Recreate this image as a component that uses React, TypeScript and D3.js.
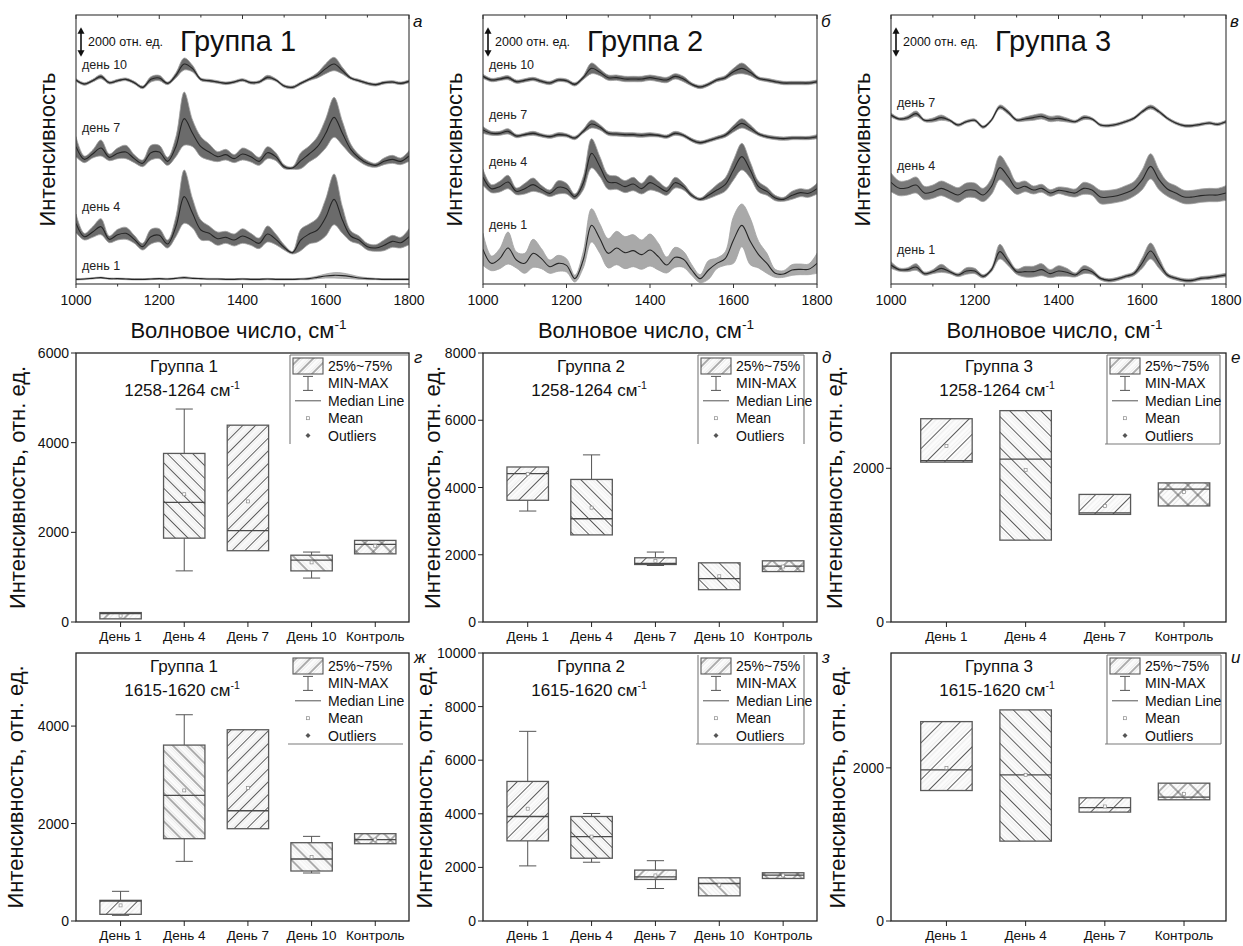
import React from 'react';
import * as d3 from 'd3';

const FONT = '"Liberation Sans", Arial, Helvetica, sans-serif';

// wavenumber grid of the spectra, cm-1
const waveNumbers = [
  1000, 1020, 1040, 1060, 1080, 1100, 1120, 1140, 1160, 1180, 1200, 1220, 1240, 1260,
  1280, 1300, 1320, 1340, 1360, 1380, 1400, 1420, 1440, 1460, 1480, 1500, 1520, 1540,
  1560, 1580, 1600, 1620, 1640, 1660, 1680, 1700, 1720, 1740, 1760, 1780, 1800,
];

// ---- Group 1 spectra: mean signal and SD relative to each trace's baseline (отн. ед.)
const g1Day10 = [250, -50, 200, 500, 50, 200, 300, 50, -300, 300, 400, 0, 600, 1450, 1100, 300, 200, 100, 0, 100, 250, 50, 100, 450, 250, -200, -300, 0, 300, 600, 1100, 1450, 950, 400, 200, 0, -100, 50, 100, 0, 150];
const g1Day10Sd = [100, 100, 100, 150, 100, 100, 100, 100, 100, 200, 200, 100, 200, 450, 250, 100, 100, 100, 100, 100, 100, 100, 100, 150, 100, 100, 100, 100, 100, 200, 375, 500, 250, 100, 100, 100, 100, 100, 100, 100, 100];
const g1Day7 = [1000, 50, 450, 900, 200, 500, 600, 100, -250, 550, 600, -100, 1000, 3100, 2000, 1000, 600, 250, 400, 100, 450, 250, -100, 550, 250, -500, -600, -50, 450, 1000, 2000, 3200, 2000, 800, 150, -250, -400, -100, 50, -100, 300];
const g1Day7Sd = [750, 250, 300, 600, 250, 400, 500, 300, 250, 550, 500, 300, 750, 2000, 1000, 750, 600, 375, 400, 300, 450, 400, 300, 450, 300, 150, 100, 600, 600, 750, 1100, 1500, 900, 400, 250, 200, 150, 250, 300, 250, 400];
const g1Day4 = [1250, 250, 600, 1000, 50, 400, 500, 50, -500, 250, 350, -300, 1000, 3250, 2000, 750, 500, 100, 200, 0, 300, 50, -250, 450, 50, -550, -950, 0, 450, 750, 1700, 3050, 1500, 300, 0, -500, -600, -400, -100, -200, 250];
const g1Day4Sd = [700, 250, 400, 600, 250, 400, 450, 300, 250, 550, 500, 300, 750, 2000, 1100, 750, 550, 500, 450, 450, 550, 450, 400, 600, 400, 200, 100, 800, 750, 900, 1400, 1900, 1000, 400, 300, 250, 250, 400, 450, 400, 600];
const g1Day1 = [0, 25, 75, 125, 50, 50, 25, 0, 0, 25, 50, 25, 75, 125, 75, 50, 25, 25, 0, 0, 25, 0, 0, 25, 0, 0, 0, 25, 50, 150, 250, 300, 275, 200, 100, 50, 25, 0, 0, 0, 0];
const g1Day1Sd = [50, 50, 50, 50, 50, 50, 50, 50, 50, 50, 50, 50, 50, 75, 50, 50, 50, 50, 50, 50, 50, 50, 50, 50, 50, 50, 50, 50, 75, 100, 150, 200, 200, 150, 100, 75, 50, 50, 50, 50, 50];
const g1Offsets = [15050, 9300, 3300, 350];
const g1LabelAt = [16425, 11675, 5800, 1350];

// ---- Group 2 spectra
const g2Day10 = [400, 125, 200, 300, 0, 100, 200, 25, -100, 125, 75, -200, 300, 1000, 700, 300, 300, 200, 200, 200, 300, 200, 125, 400, 200, -200, -400, -200, 125, 300, 750, 1000, 700, 250, 125, 0, -100, -100, -100, -100, 0];
const g2Day10Sd = [150, 125, 125, 150, 125, 125, 125, 125, 125, 125, 125, 125, 150, 400, 250, 200, 200, 200, 200, 200, 200, 200, 200, 200, 200, 125, 125, 125, 125, 150, 250, 400, 250, 125, 125, 125, 125, 125, 125, 125, 125];
const g2Day7 = [500, 250, 250, 400, 50, 150, 250, 100, 0, 150, 100, -100, 400, 950, 700, 250, 200, 150, 150, 100, 150, 100, 0, 250, 100, -250, -450, -300, -100, 100, 600, 1000, 650, 200, 0, -100, -150, -100, -100, -100, 0];
const g2Day7Sd = [250, 150, 150, 200, 125, 125, 150, 125, 125, 150, 125, 125, 150, 300, 200, 150, 150, 150, 150, 150, 150, 125, 125, 150, 125, 125, 125, 125, 125, 150, 250, 350, 250, 125, 125, 125, 125, 125, 125, 125, 150];
const g2Day4 = [950, 100, 250, 600, -100, 100, 400, 50, -250, 200, 100, -500, 500, 2750, 1750, 600, 550, 250, 450, 100, 550, 250, -100, 550, 250, -400, -700, -400, 0, 400, 1500, 2500, 1500, 250, -100, -600, -700, -400, -200, -250, 100];
const g2Day4Sd = [600, 300, 400, 500, 250, 400, 500, 300, 250, 500, 400, 200, 500, 1100, 750, 550, 500, 450, 500, 400, 550, 400, 300, 400, 250, 150, 100, 250, 400, 500, 750, 1000, 600, 400, 300, 200, 150, 300, 300, 300, 400];
const g2Day1 = [1300, 250, 600, 1400, 500, 250, 1000, 600, 0, 250, 100, -900, 500, 3100, 2100, 1000, 1400, 1050, 1200, 900, 1250, 750, 125, 700, 550, -250, -900, -250, 250, 600, 2000, 3100, 1900, 900, 250, -500, -550, -250, -200, -200, 250];
const g2Day1Sd = [1200, 550, 750, 1200, 600, 750, 1050, 750, 500, 600, 500, 250, 600, 1250, 1100, 1100, 1250, 1200, 1200, 1100, 1200, 1000, 600, 750, 600, 400, 300, 700, 400, 500, 1750, 1600, 1750, 1000, 750, 300, 250, 400, 400, 400, 750];
const g2Offsets = [15175, 11050, 7050, 1300];
const g2LabelAt = [16425, 12675, 9125, 4425];

// ---- Group 3 spectra
const g3Day7 = [500, 200, 300, 600, 100, 125, 300, 100, -250, 0, 100, -400, 125, 1100, 700, 125, 200, 300, 400, 200, 250, 125, 0, 300, 200, -250, -300, -200, 0, 250, 750, 1100, 750, 250, -100, -300, -300, -200, -100, -200, 0];
const g3Day7Sd = [150, 100, 150, 200, 100, 150, 200, 100, 100, 100, 100, 100, 100, 150, 150, 100, 150, 200, 200, 200, 200, 150, 100, 150, 100, 100, 100, 100, 100, 100, 125, 150, 125, 100, 100, 100, 100, 100, 100, 100, 100];
const g3Day4 = [700, 250, 300, 500, -100, 0, 250, 0, -250, 100, 100, -250, 400, 1800, 1100, 250, 400, 125, 250, -100, 100, 0, -100, 250, 125, -400, -400, -300, -100, 200, 900, 1900, 900, 200, -100, -400, -400, -300, -250, -250, -100];
const g3Day4Sd = [700, 550, 550, 600, 500, 500, 550, 550, 550, 550, 550, 500, 600, 900, 750, 450, 400, 300, 300, 250, 250, 300, 300, 450, 400, 500, 500, 500, 550, 550, 750, 950, 750, 550, 550, 500, 500, 500, 500, 500, 550];
const g3Day1 = [750, 400, 400, 600, 100, 250, 500, 250, 0, 300, 300, -100, 400, 1750, 1000, 250, 250, 250, 400, 100, 300, 200, 0, 400, 250, -250, -400, -300, -100, 100, 900, 1800, 900, 0, -250, -400, -400, -250, -200, -100, 0];
const g3Day1Sd = [250, 125, 150, 250, 125, 150, 300, 150, 125, 250, 200, 125, 150, 550, 300, 200, 400, 400, 450, 300, 400, 300, 150, 300, 200, 125, 125, 125, 125, 150, 400, 600, 400, 150, 125, 125, 125, 125, 125, 125, 125];
const g3Offsets = [12175, 6925, 675];
const g3LabelAt = [13550, 8850, 2550];

// ---- box plots
const days5 = ['День 1', 'День 4', 'День 7', 'День 10', 'Контроль'];
const days4 = ['День 1', 'День 4', 'День 7', 'Контроль'];

// Группа 1, 1258-1264
const b1aMin = [70, 1140, 1590, 980, 1520];
const b1aQ1 = [70, 1870, 1590, 1140, 1520];
const b1aMed = [190, 2670, 2040, 1380, 1730];
const b1aQ3 = [210, 3760, 4390, 1490, 1820];
const b1aMax = [210, 4750, 4390, 1560, 1820];
const b1aMean = [140, 2850, 2690, 1330, 1700];
// Группа 2, 1258-1264
const b2aMin = [3300, 2590, 1680, 960, 1500];
const b2aQ1 = [3620, 2590, 1710, 960, 1500];
const b2aMed = [4410, 3070, 1740, 1290, 1660];
const b2aQ3 = [4610, 4240, 1910, 1760, 1820];
const b2aMax = [4610, 4970, 2080, 1760, 1820];
const b2aMean = [4400, 3400, 1810, 1360, 1650];
// Группа 3, 1258-1264
const b3aMin = [2080, 1065, 1400, 1510];
const b3aQ1 = [2080, 1065, 1400, 1510];
const b3aMed = [2100, 2120, 1420, 1730];
const b3aQ3 = [2645, 2750, 1660, 1810];
const b3aMax = [2645, 2750, 1660, 1810];
const b3aMean = [2290, 1980, 1510, 1690];
// Группа 1, 1615-1620
const b1bMin = [116, 1224, 1894, 985, 1586];
const b1bQ1 = [137, 1689, 1894, 1026, 1586];
const b1bMed = [410, 2578, 2263, 1272, 1668];
const b1bQ3 = [424, 3610, 3925, 1607, 1792];
const b1bMax = [609, 4233, 3925, 1737, 1792];
const b1bMean = [320, 2680, 2730, 1313, 1670];
// Группа 2, 1615-1620
const b2bMin = [2056, 2193, 1212, 940, 1587];
const b2bQ1 = [2990, 2342, 1550, 940, 1587];
const b2bMed = [3900, 3152, 1650, 1400, 1712];
const b2bQ3 = [5208, 3900, 1900, 1612, 1800];
const b2bMax = [7077, 4012, 2250, 1612, 1800];
const b2bMean = [4190, 3150, 1700, 1340, 1700];
// Группа 3, 1615-1620
const b3bMin = [1704, 1043, 1422, 1583];
const b3bQ1 = [1704, 1043, 1422, 1583];
const b3bMed = [1974, 1909, 1480, 1617];
const b3bQ3 = [2604, 2757, 1609, 1800];
const b3bMax = [2604, 2757, 1609, 1800];
const b3bMean = [2000, 1909, 1496, 1661];

const legendItems = ['25%~75%', 'MIN-MAX', 'Median Line', 'Mean', 'Outliers'];

const COLS = [[76, 409], [483, 817], [891, 1226]];

function CmLabel({ x, y, text, size, anchor = 'middle' }) {
  return (
    <text x={x} y={y} fontSize={size} textAnchor={anchor} fill="#111">
      {text}
      <tspan dy={-size * 0.42} fontSize={size * 0.62}>-1</tspan>
    </text>
  );
}

function SpectraPanel({ col, title, letter, traces }) {
  const [x0, x1] = COLS[col];
  const top = 15, bottom = 284;
  const x = d3.scaleLinear().domain([1000, 1800]).range([x0, x1]);
  const y = d3.scaleLinear().domain([0, 20175]).range([bottom, top]);
  const clipId = `clip-s${col}`;
  const major = [1000, 1200, 1400, 1600, 1800];
  const minor = [1100, 1300, 1500, 1700];
  const ax = x0 + 5;
  return (
    <g>
      <defs>
        <clipPath id={clipId}>
          <rect x={x0} y={top} width={x1 - x0} height={bottom - top} />
        </clipPath>
      </defs>
      <g clipPath={`url(#${clipId})`}>
        {traces.map((t, k) => {
          const area = d3.area<number>()
            .x((_, i) => x(waveNumbers[i]))
            .y0((v, i) => y(t.offset + v - t.sd[i]))
            .y1((v, i) => y(t.offset + v + t.sd[i]))
            .curve(d3.curveCatmullRom.alpha(0.5));
          const line = d3.line<number>()
            .x((_, i) => x(waveNumbers[i]))
            .y((v) => y(t.offset + v))
            .curve(d3.curveCatmullRom.alpha(0.5));
          return (
            <g key={k}>
              <path d={area(t.mean) || ''} fill={t.fill} stroke="#a2a2a2" strokeWidth={0.8} />
              <path d={line(t.mean) || ''} fill="none" stroke="#262626" strokeWidth={1.1} />
            </g>
          );
        })}
      </g>
      {traces.map((t, k) => (
        <text key={k} x={x0 + 6} y={y(t.labelAt) + 4} fontSize={12.5} fill="#222">{t.label}</text>
      ))}
      <rect x={x0} y={top} width={x1 - x0} height={bottom - top} fill="none" stroke="#333" strokeWidth={1.1} />
      {major.map((v) => (
        <g key={v}>
          <line x1={x(v)} x2={x(v)} y1={bottom} y2={bottom + 4} stroke="#333" />
          <line x1={x(v)} x2={x(v)} y1={top} y2={top + 4} stroke="#333" />
          <text x={x(v)} y={bottom + 21} fontSize={14} textAnchor="middle" fill="#111">{v}</text>
        </g>
      ))}
      {minor.map((v) => (
        <g key={v}>
          <line x1={x(v)} x2={x(v)} y1={bottom} y2={bottom + 2.5} stroke="#333" />
          <line x1={x(v)} x2={x(v)} y1={top} y2={top + 2.5} stroke="#333" />
        </g>
      ))}
      {/* 2000 units scale arrow */}
      <g fill="#111">
        <line x1={ax} x2={ax} y1={y(19250) + 4} y2={y(17050) - 4} stroke="#111" strokeWidth={1.6} />
        <path d={`M${ax},${y(19250)} l-3.5,6.5 h7 z`} />
        <path d={`M${ax},${y(17050)} l-3.5,-6.5 h7 z`} />
      </g>
      <text x={x0 + 12} y={top + 31} fontSize={12.5} fill="#111">2000 отн. ед.</text>
      <text x={x0 + 104} y={top + 36} fontSize={29} fill="#111">{title}</text>
      <text x={x1 + 4} y={top + 12} fontSize={17} fontStyle="italic" fill="#111">{letter}</text>
      <text transform={`translate(${x0 - 21},${(top + bottom) / 2}) rotate(-90)`} fontSize={22} textAnchor="middle" fill="#111">Интенсивность</text>
      <CmLabel x={(x0 + x1) / 2 - 4} y={bottom + 54} text="Волновое число, см" size={22} />
    </g>
  );
}

function hatchAngle(i, n) {
  if (i === n - 1) return 'x';
  return i % 2 === 0 ? 45 : -45;
}

function BoxPanel(p) {
  const [left, right] = COLS[p.col];
  const { top, bottom } = p;
  const n = p.cats.length;
  const x = d3.scaleLinear().domain([0.3, n + 0.53]).range([left, right]);
  const y = d3.scaleLinear().domain([0, p.yMax]).range([bottom, top]);
  const bw = x(0.65) - x(0);
  const cw = x(0.27) - x(0);
  const pid = `b${p.id}`;
  const rowY = (k) => top + 13 + k * 17.4;
  const lg = { l: right - 119, r: right - p.legendInset, t: top + 2, b: top + 91 };
  const pattern = (id, spacing, angle) => {
    const rot = angle === 'x' ? 45 : angle;
    return (
      <pattern key={id} id={id} patternUnits="userSpaceOnUse" width={spacing} height={spacing} patternTransform={`rotate(${rot})`}>
        <rect width={spacing} height={spacing} fill="#fcfcfc" />
        {[0, 0.25, 0.75].map((f) => (
          <line key={f} x1={spacing * f} x2={spacing * f} y1={0} y2={spacing} stroke="#d6d6d6" strokeWidth={0.5} />
        ))}
        <line x1={spacing / 2} x2={spacing / 2} y1={0} y2={spacing} stroke="#4a4a4a" strokeWidth={0.9} />
        {angle === 'x' && <line x1={0} x2={spacing} y1={spacing / 2} y2={spacing / 2} stroke="#4a4a4a" strokeWidth={0.9} />}
      </pattern>
    );
  };
  return (
    <g>
      <defs>
        {p.cats.map((_, i) => pattern(`${pid}-h${i}`, p.spacing[i], hatchAngle(i, n)))}
        {pattern(`${pid}-leg`, 10, 45)}
      </defs>
      {p.cats.map((c, i) => {
        const cx = x(i + 1);
        const q1 = y(p.q1[i]), q3 = y(p.q3[i]);
        return (
          <g key={c}>
            {p.max[i] > p.q3[i] && (
              <g stroke="#555" strokeWidth={1}>
                <line x1={cx} x2={cx} y1={q3} y2={y(p.max[i])} />
                <line x1={cx - cw / 2} x2={cx + cw / 2} y1={y(p.max[i])} y2={y(p.max[i])} />
              </g>
            )}
            {p.min[i] < p.q1[i] && (
              <g stroke="#555" strokeWidth={1}>
                <line x1={cx} x2={cx} y1={q1} y2={y(p.min[i])} />
                <line x1={cx - cw / 2} x2={cx + cw / 2} y1={y(p.min[i])} y2={y(p.min[i])} />
              </g>
            )}
            <rect x={cx - bw / 2} y={q3} width={bw} height={Math.max(q1 - q3, 1)} fill={`url(#${pid}-h${i})`} stroke="#5a5a5a" strokeWidth={1.3} />
            <line x1={cx - bw / 2} x2={cx + bw / 2} y1={y(p.med[i])} y2={y(p.med[i])} stroke="#4a4a4a" strokeWidth={1.3} />
            <rect x={cx - 1.5} y={y(p.mean[i]) - 1.5} width={3} height={3} fill="#fff" stroke="#8a8a8a" strokeWidth={0.7} />
          </g>
        );
      })}
      {/* legend */}
      <g stroke="#7a7a7a" strokeWidth={1.1}>
        {p.frame.includes('t') && <line x1={lg.l} x2={lg.r} y1={lg.t} y2={lg.t} />}
        {p.frame.includes('l') && <line x1={lg.l} x2={lg.l} y1={lg.t} y2={lg.b} />}
        {p.frame.includes('r') && <line x1={lg.r} x2={lg.r} y1={lg.t} y2={lg.b} />}
        {p.frame.includes('b') && <line x1={lg.l - 2} x2={lg.r} y1={lg.b} y2={lg.b} />}
      </g>
      <rect x={right - 116} y={rowY(0) - 8} width={30} height={16} fill={`url(#${pid}-leg)`} stroke="#5a5a5a" strokeWidth={1.1} />
      <g stroke="#555" strokeWidth={1}>
        <line x1={right - 101} x2={right - 101} y1={rowY(1) - 7} y2={rowY(1) + 7} />
        <line x1={right - 106} x2={right - 96} y1={rowY(1) - 7} y2={rowY(1) - 7} />
        <line x1={right - 106} x2={right - 96} y1={rowY(1) + 7} y2={rowY(1) + 7} />
        <line x1={right - 114} x2={right - 88} y1={rowY(2)} y2={rowY(2)} />
      </g>
      <rect x={right - 102.5} y={rowY(3) - 1.5} width={3} height={3} fill="#fff" stroke="#8a8a8a" strokeWidth={0.7} />
      <path d={`M${right - 101},${rowY(4) - 2.5} l2.5,2.5 l-2.5,2.5 l-2.5,-2.5 z`} fill="#555" />
      {legendItems.map((t, k) => (
        <text key={t} x={right - 81} y={rowY(k) + 5} fontSize={14} fill="#111">{t}</text>
      ))}
      {/* frame and axes */}
      <rect x={left} y={top} width={right - left} height={bottom - top} fill="none" stroke="#222" strokeWidth={1.3} />
      {p.yTicks.map((v) => (
        <g key={v}>
          <line x1={left - 5} x2={left} y1={y(v)} y2={y(v)} stroke="#222" />
          <text x={left - 7} y={y(v) + 5} fontSize={14} textAnchor="end" fill="#111">{v}</text>
        </g>
      ))}
      {p.cats.map((c, i) => (
        <g key={c}>
          <line x1={x(i + 1)} x2={x(i + 1)} y1={bottom} y2={bottom + 5} stroke="#222" />
          <text x={x(i + 1)} y={bottom + 19} fontSize={13.5} textAnchor="middle" fill="#111">{c}</text>
        </g>
      ))}
      <text x={left + 108} y={top + 19} fontSize={17} textAnchor="middle" fill="#111">{p.title}</text>
      <CmLabel x={left + 106} y={top + 43} text={p.band} size={17} />
      <text x={right + 5} y={top + 10} fontSize={17} fontStyle="italic" fill="#111">{p.letter}</text>
      <text transform={`translate(${left + p.yLabelDx},${(top + bottom) / 2}) rotate(-90)`} fontSize={22} textAnchor="middle" fill="#111">Интенсивность, отн. ед.</text>
    </g>
  );
}

export default function App() {
  const dark = '#6b6b6b';
  const g1 = [
    { label: 'день 10', mean: g1Day10, sd: g1Day10Sd, fill: dark },
    { label: 'день 7', mean: g1Day7, sd: g1Day7Sd, fill: dark },
    { label: 'день 4', mean: g1Day4, sd: g1Day4Sd, fill: dark },
    { label: 'день 1', mean: g1Day1, sd: g1Day1Sd, fill: '#b4b4b4' },
  ].map((t, i) => ({ ...t, offset: g1Offsets[i], labelAt: g1LabelAt[i] }));
  const g2 = [
    { label: 'день 10', mean: g2Day10, sd: g2Day10Sd, fill: dark },
    { label: 'день 7', mean: g2Day7, sd: g2Day7Sd, fill: dark },
    { label: 'день 4', mean: g2Day4, sd: g2Day4Sd, fill: dark },
    { label: 'день 1', mean: g2Day1, sd: g2Day1Sd, fill: '#a9a9a9' },
  ].map((t, i) => ({ ...t, offset: g2Offsets[i], labelAt: g2LabelAt[i] }));
  const g3 = [
    { label: 'день 7', mean: g3Day7, sd: g3Day7Sd, fill: '#7a7a7a' },
    { label: 'день 4', mean: g3Day4, sd: g3Day4Sd, fill: '#7a7a7a' },
    { label: 'день 1', mean: g3Day1, sd: g3Day1Sd, fill: '#7a7a7a' },
  ].map((t, i) => ({ ...t, offset: g3Offsets[i], labelAt: g3LabelAt[i] }));

  const r1 = { top: 353, bottom: 622, band: '1258-1264 см' };
  const r2 = { top: 653, bottom: 921, band: '1615-1620 см' };

  return (
    <svg width={1243} height={946} style={{ position: 'absolute', left: 0, top: 0, display: 'block', background: '#fff' }} fontFamily={FONT}>
      <rect width={1243} height={946} fill="#fff" />
      <SpectraPanel col={0} title="Группа 1" letter="а" traces={g1} />
      <SpectraPanel col={1} title="Группа 2" letter="б" traces={g2} />
      <SpectraPanel col={2} title="Группа 3" letter="в" traces={g3} />

      <BoxPanel id="g" col={0} {...r1} title="Группа 1" letter="г" cats={days5} yMax={6000} yTicks={[0, 2000, 4000, 6000]}
        min={b1aMin} q1={b1aQ1} med={b1aMed} q3={b1aQ3} max={b1aMax} mean={b1aMean}
        spacing={[14, 9, 9, 12, 12]} frame="tl" legendInset={1} yLabelDx={-51} />
      <BoxPanel id="d" col={1} {...r1} title="Группа 2" letter="д" cats={days5} yMax={8000} yTicks={[0, 2000, 4000, 6000, 8000]}
        min={b2aMin} q1={b2aQ1} med={b2aMed} q3={b2aQ3} max={b2aMax} mean={b2aMean}
        spacing={[11, 11, 13, 13, 12]} frame="tlr" legendInset={13} yLabelDx={-43} />
      <BoxPanel id="e" col={2} {...r1} title="Группа 3" letter="е" cats={days4} yMax={3500} yTicks={[0, 2000]}
        min={b3aMin} q1={b3aQ1} med={b3aMed} q3={b3aQ3} max={b3aMax} mean={b3aMean}
        spacing={[13, 11, 13, 14]} frame="tlrb" legendInset={6} yLabelDx={-49} />

      <BoxPanel id="zh" col={0} {...r2} title="Группа 1" letter="ж" cats={days5} yMax={5500} yTicks={[0, 2000, 4000]}
        min={b1bMin} q1={b1bQ1} med={b1bMed} q3={b1bQ3} max={b1bMax} mean={b1bMean}
        spacing={[13, 10, 9, 12, 12]} frame="b" legendInset={6} yLabelDx={-53} />
      <BoxPanel id="z" col={1} {...r2} title="Группа 2" letter="з" cats={days5} yMax={10000} yTicks={[0, 2000, 4000, 6000, 8000, 10000]}
        min={b2bMin} q1={b2bQ1} med={b2bMed} q3={b2bQ3} max={b2bMax} mean={b2bMean}
        spacing={[11, 9, 14, 14, 12]} frame="lrb" legendInset={13} yLabelDx={-51} />
      <BoxPanel id="i" col={2} {...r2} title="Группа 3" letter="и" cats={days4} yMax={3500} yTicks={[0, 2000]}
        min={b3bMin} q1={b3bQ1} med={b3bMed} q3={b3bQ3} max={b3bMax} mean={b3bMean}
        spacing={[13, 11, 13, 14]} frame="tlrb" legendInset={5} yLabelDx={-46} />
    </svg>
  );
}
